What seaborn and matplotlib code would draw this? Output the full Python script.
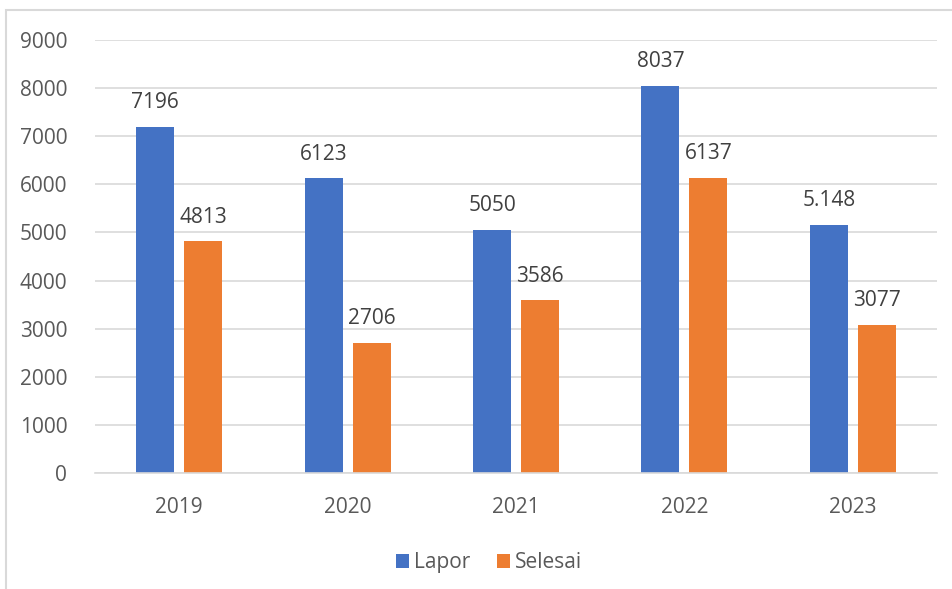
import matplotlib
matplotlib.use("Agg")
import matplotlib.pyplot as plt
import seaborn as sns
import pandas as pd
from matplotlib.patches import Rectangle

years = ["2019", "2020", "2021", "2022", "2023"]
lapor = [7196, 6123, 5050, 8037, 5148]
selesai = [4813, 2706, 3586, 6137, 3077]
lapor_labels = ["7196", "6123", "5050", "8037", "5.148"]
selesai_labels = ["4813", "2706", "3586", "6137", "3077"]
series = ["Lapor", "Selesai"]
colors = ["#4472C4", "#ED7D31"]
yticks = [0, 1000, 2000, 3000, 4000, 5000, 6000, 7000, 8000, 9000]

df = pd.DataFrame({
    "year": years * 2,
    "value": lapor + selesai,
    "series": [series[0]] * len(years) + [series[1]] * len(years),
})

sns.set_theme(style="white")
plt.rcParams["font.family"] = ["Open Sans", "DejaVu Sans"]

fig = plt.figure(figsize=(9.52, 5.89), dpi=100)
ax = fig.add_axes([0.0998, 0.197, 0.8845, 0.735])

sns.barplot(data=df, x="year", y="value", hue="series", palette=colors,
            width=0.57, gap=0.208, ax=ax, legend=True, saturation=1,
            linewidth=0)

fs = 15
ax.set_ylim(0, 9000)
ax.set_yticks(yticks)
ax.set_yticklabels([str(t) for t in yticks])
ax.grid(axis="y", color="#D9D9D9", linewidth=1.2)
ax.set_axisbelow(True)
for s in ["top", "right", "left"]:
    ax.spines[s].set_visible(False)
ax.spines["bottom"].set_color("#D9D9D9")
ax.spines["bottom"].set_linewidth(1.2)
ax.tick_params(axis="both", length=0, labelsize=fs, colors="#595959")
ax.tick_params(axis="y", pad=20)
ax.tick_params(axis="x", pad=17)
ax.set_xlabel("")
ax.set_ylabel("")

for cont, labels in zip(ax.containers, [lapor_labels, selesai_labels]):
    ax.bar_label(cont, labels=labels, padding=10, fontsize=fs, color="#404040")

leg = ax.legend(loc="upper center", bbox_to_anchor=(0.468, -0.14), ncol=2,
                frameon=False, fontsize=fs, handlelength=0.6, handleheight=0.6,
                handletextpad=0.25, columnspacing=1.3)
for t in leg.get_texts():
    t.set_color("#595959")

fig.patches.append(Rectangle((6 / 952, -0.1), 1.2, 1 - 10 / 589 + 0.1,
                             transform=fig.transFigure, fill=False,
                             edgecolor="#D9D9D9", linewidth=1.5))

fig.savefig("out.png", dpi=100)
